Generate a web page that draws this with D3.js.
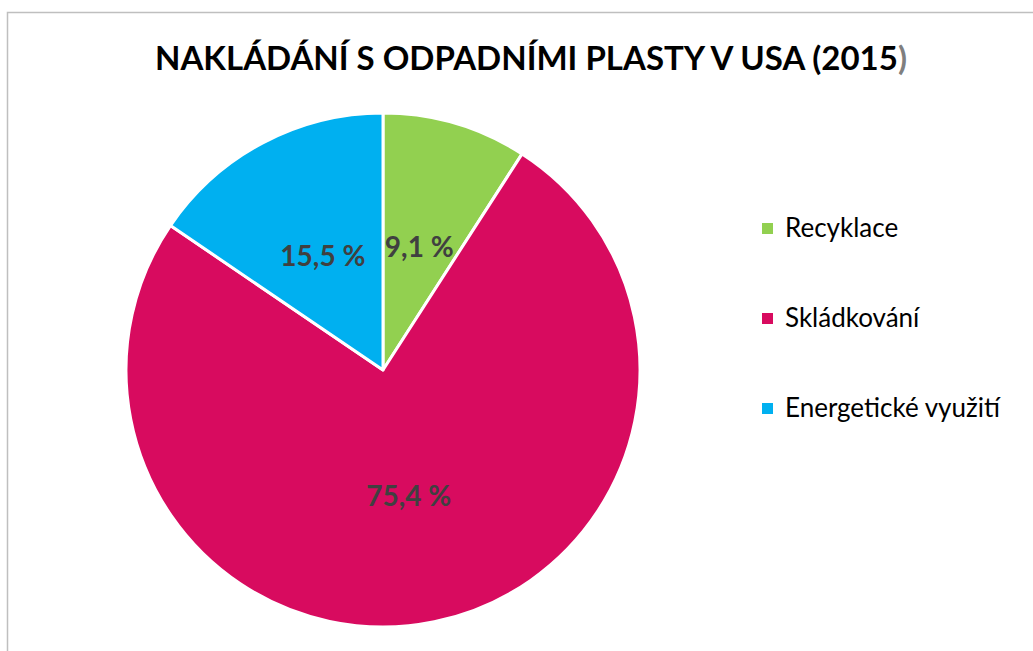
<!DOCTYPE html>
<html lang="cs">
<head>
<meta charset="utf-8">
<title>Nakládání s odpadními plasty v USA (2015)</title>
<script src="https://d3js.org/d3.v7.min.js"></script>
<style>
body { margin:0; background:#fff; }
svg text { font-family: Lato, "Open Sans", sans-serif; }
</style>
</head>
<body>
<div id="chart"></div>
<script>
// data
var categories = ["Recyklace", "Skládkování", "Energetické využití"];
var shares = [9.1, 75.4, 15.5];
var colors = ["#92D050", "#D80B5F", "#00B0F0"];

var width = 1033, height = 651;
var cx = 383, cy = 370, radius = 257;

var svg = d3.select("#chart").append("svg").attr("width", width).attr("height", height);

// frame of the chart area (only left and top are visible)
svg.append("path")
	.attr("d", "M7.5," + height + "V12.5H" + width)
	.attr("fill", "none").attr("stroke", "#bfbfbf").attr("stroke-width", 1.5);

var title = svg.append("text")
	.attr("x", 531).attr("y", 70)
	.attr("text-anchor", "middle")
	.style("font-size", "33px").style("font-weight", "bold").attr("fill", "#000");
title.append("tspan").text("NAKLÁDÁNÍ S ODPADNÍMI PLASTY V USA (2015");
title.append("tspan").attr("fill", "#7f7f7f").text(")");

var pie = d3.pie().sort(null).value(function(d){ return d; });
var arc = d3.arc().innerRadius(0).outerRadius(radius);
var labelArc = d3.arc().innerRadius(radius*0.5).outerRadius(radius*0.5);

var g = svg.append("g").attr("transform", "translate(" + cx + "," + cy + ")");
var arcs = pie(shares);

g.selectAll("path.slice").data(arcs).enter().append("path")
	.attr("class", "slice")
	.attr("d", arc)
	.attr("fill", function(d, i){ return colors[i]; })
	.attr("stroke", "#fff").attr("stroke-width", 3).attr("stroke-linejoin", "round");

g.selectAll("text.lbl").data(arcs).enter().append("text")
	.attr("class", "lbl")
	.attr("transform", function(d){ return "translate(" + labelArc.centroid(d) + ")"; })
	.attr("text-anchor", "middle").attr("dy", "0.35em")
	.style("font-size", "28px").style("font-weight", "bold").attr("fill", "#404040")
	.text(function(d){ return String(d.data).replace(".", ",") + " %"; });

// legend
var ly = d3.scalePoint().domain(categories).range([228, 408]);
var leg = svg.append("g").selectAll("g").data(categories).enter().append("g")
	.attr("transform", function(d){ return "translate(762," + ly(d) + ")"; });
leg.append("rect").attr("x", 0).attr("y", -5).attr("width", 11).attr("height", 11)
	.attr("fill", function(d, i){ return colors[i]; });
leg.append("text").attr("x", 23).attr("dy", "0.35em")
	.style("font-size", "26px").attr("fill", "#000")
	.text(function(d){ return d; });
</script>
</body>
</html>
